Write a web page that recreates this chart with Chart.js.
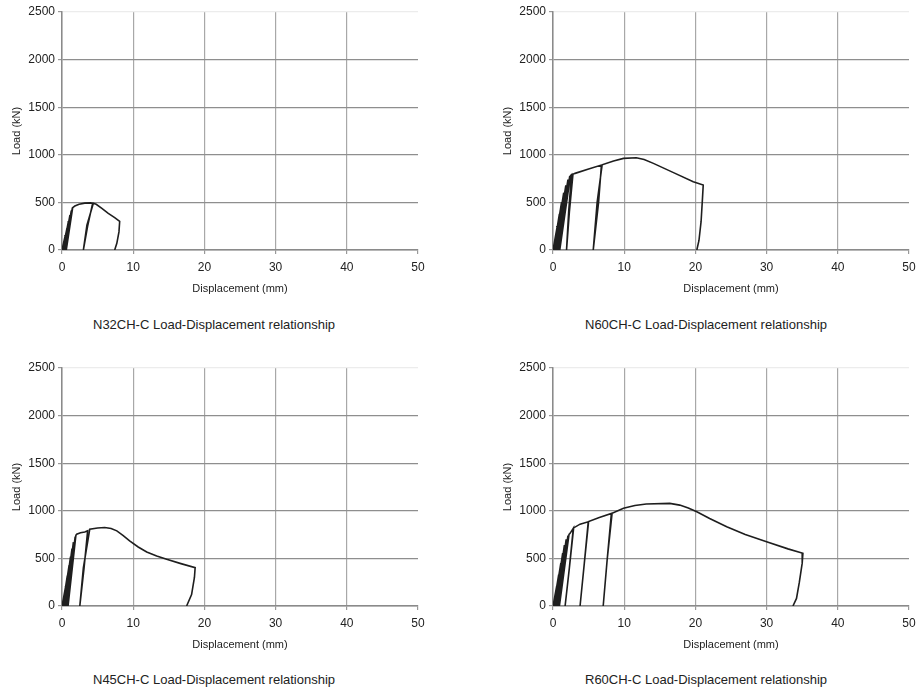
<!DOCTYPE html>
<html>
<head>
<meta charset="utf-8">
<script src="https://cdn.jsdelivr.net/npm/chart.js@4.4.0/dist/chart.umd.min.js"></script>
<style>
  body { margin: 0; background: #fff; width: 922px; height: 694px; position: relative; overflow: hidden; }
  .box { position: absolute; width: 461px; height: 300px; }
  .cap { position: absolute; font-family: "Liberation Sans", Arial, sans-serif; font-size: 13px; color: #222; white-space: nowrap; }
</style>
</head>
<body>
<div class="box" style="left:0;top:0"><canvas id="g1"></canvas></div>
<div class="box" style="left:461px;top:0"><canvas id="g2"></canvas></div>
<div class="box" style="left:0;top:356px"><canvas id="g3"></canvas></div>
<div class="box" style="left:461px;top:356px"><canvas id="g4"></canvas></div>
<div class="cap" style="left:93px;top:317px">N32CH-C Load-Displacement relationship</div>
<div class="cap" style="left:585px;top:317px">N60CH-C Load-Displacement relationship</div>
<div class="cap" style="left:93px;top:672px">N45CH-C Load-Displacement relationship</div>
<div class="cap" style="left:585px;top:672px">R60CH-C Load-Displacement relationship</div>
<script>
// displacement (mm) / load (kN), cycle by cycle
var n32Disp = [0, 0.45, 0.05, 0.47, 0.08, 0.7, 0.1, 0.72, 0.13, 0.9, 0.2, 0.92, 0.24, 1.1, 0.3, 1.12, 0.34, 1.3, 0.4, 1.32, 0.45, 1.45, 0.55, 1.47, 0.6,
  1.5, 1.8, 2.4, 3.2, 4.0, 4.3, 3.6, 3.0, 3.5, 4.4, 4.8, 5.6, 6.5, 7.4, 8.1, 8.0, 7.7, 7.4];
var n32Load = [0, 150, 0, 150, 0, 230, 0, 230, 0, 300, 0, 300, 0, 360, 0, 360, 0, 410, 0, 410, 0, 440, 0, 442, 0,
  445, 462, 480, 492, 495, 490, 250, 0, 260, 490, 480, 437, 385, 340, 300, 190, 70, 0];

var n60Disp = [0, 0.6, 0.05, 0.62, 0.08, 0.9, 0.1, 0.92, 0.14, 1.2, 0.2, 1.22, 0.25, 1.5, 0.35, 1.52, 0.4, 1.8, 0.5, 1.82, 0.56, 2.1, 0.7, 2.12, 0.76, 2.35, 0.9, 2.37, 0.95,
  2.45, 2.6, 2.2, 1.9, 2.3, 2.8, 3.1, 5.0, 6.8, 6.4, 5.65, 6.2, 6.9, 8.5, 9.9, 11.7, 12.8, 14.1, 17.0, 19.7, 21.1, 21.0, 20.8, 20.5, 20.2];
var n60Load = [0, 250, 0, 250, 0, 380, 0, 380, 0, 500, 0, 500, 0, 600, 0, 600, 0, 680, 0, 680, 0, 740, 0, 740, 0, 775, 0, 775, 0,
  780, 790, 400, 0, 400, 795, 805, 850, 892, 500, 0, 500, 895, 935, 962, 969, 950, 910, 810, 717, 683, 550, 300, 100, 0];

var n45Disp = [0, 0.5, 0.05, 0.52, 0.08, 0.75, 0.1, 0.77, 0.14, 1.0, 0.2, 1.02, 0.25, 1.2, 0.3, 1.22, 0.36, 1.4, 0.45, 1.42, 0.5, 1.6, 0.6, 1.62, 0.66, 1.85, 0.8, 1.87, 0.85,
  1.95, 2.06, 2.6, 3.2, 3.6, 3.1, 2.5, 3.0, 3.9, 5.0, 6.0, 6.9, 7.7, 8.6, 9.5, 10.7, 11.9, 13.3, 14.7, 16.7, 18.7, 18.6, 18.2, 17.5];
var n45Load = [0, 200, 0, 200, 0, 320, 0, 320, 0, 430, 0, 430, 0, 520, 0, 520, 0, 600, 0, 600, 0, 670, 0, 670, 0, 730, 0, 730, 0,
  742, 754, 770, 778, 790, 400, 0, 400, 807, 820, 825, 815, 789, 740, 684, 620, 568, 525, 490, 445, 403, 300, 120, 0];

var r60Disp = [0, 0.5, 0.05, 0.52, 0.08, 0.8, 0.1, 0.82, 0.14, 1.1, 0.2, 1.12, 0.25, 1.35, 0.35, 1.37, 0.4, 1.6, 0.5, 1.62, 0.55, 1.85, 0.65, 1.87, 0.7, 2.1, 0.85, 2.12, 0.9,
  2.25, 2.4, 2.85, 2.3, 1.7, 2.3, 2.9, 3.8, 4.95, 4.4, 3.8, 4.4, 5.0, 6.5, 8.2, 7.6, 7.05, 7.6, 8.3, 9.9, 11.5, 13.1, 16.4, 17.8, 19.0, 20.2, 22.0, 24.4, 27.0, 30.0, 33.0, 35.1, 35.0, 34.6, 34.2, 33.7];
var r60Load = [0, 200, 0, 200, 0, 330, 0, 330, 0, 450, 0, 450, 0, 550, 0, 550, 0, 640, 0, 640, 0, 700, 0, 700, 0, 740, 0, 740, 0,
  752, 763, 816, 400, 0, 400, 820, 860, 885, 450, 0, 450, 888, 930, 973, 480, 0, 480, 975, 1026, 1055, 1071, 1078, 1060, 1030, 990, 920, 833, 750, 675, 600, 553, 450, 250, 80, 0];

var xTicks = [0, 10, 20, 30, 40, 50];
var yTicks = [0, 500, 1000, 1500, 2000, 2500];

function pts(xs, ys) {
  return xs.map(function (x, i) { return { x: x, y: ys[i] }; });
}

function makeChart(id, xs, ys, padLeft, padRight) {
  new Chart(document.getElementById(id), {
    type: "scatter",
    data: {
      datasets: [{
        data: pts(xs, ys),
        showLine: true,
        borderColor: "#1e1e1e",
        borderWidth: 1.6,
        pointRadius: 0,
        tension: 0
      }]
    },
    options: {
      responsive: false,
      animation: false,
      plugins: { legend: { display: false }, tooltip: { enabled: false } },
      layout: { padding: { left: padLeft, right: padRight, top: 12, bottom: 0 } },
      scales: {
        x: {
          type: "linear", min: 0, max: 50,
          afterBuildTicks: function (s) { s.ticks = xTicks.map(function (v) { return { value: v }; }); },
          afterFit: function (s) { s.height = 50; },
          grid: {
            color: function (c) { return c.tick.value === 50 ? "rgba(0,0,0,0)" : "#a8a8a8"; },
            lineWidth: 1.2, tickLength: 4, tickColor: "#999"
          },
          border: { color: "#8a8a8a", width: 1.5 },
          ticks: { color: "#222", font: { family: "Liberation Sans", size: 12 }, padding: 6, maxRotation: 0,
            callback: function (v) { return String(v); } },
          title: { display: true, text: "Displacement (mm)", color: "#222", font: { family: "Liberation Sans", size: 11 }, padding: { top: 2 } }
        },
        y: {
          type: "linear", min: 0, max: 2500,
          afterBuildTicks: function (s) { s.ticks = yTicks.map(function (v) { return { value: v }; }); },
          afterFit: function (s) { s.width = 52; },
          grid: {
            color: function (c) { return c.tick.value === 2500 ? "#ececec" : "#8e8e8e"; },
            lineWidth: 1.2, tickLength: 4, tickColor: "#999"
          },
          border: { color: "#8a8a8a", width: 1.5 },
          ticks: { color: "#222", font: { family: "Liberation Sans", size: 12 }, padding: 3,
            callback: function (v) { return String(v); } },
          title: { display: true, text: "Load (kN)", color: "#222", font: { family: "Liberation Sans", size: 11 }, padding: 0 }
        }
      }
    }
  });
}

function sizeCanvas(id) {
  var c = document.getElementById(id);
  c.width = 461; c.height = 300;
  c.style.width = "461px"; c.style.height = "300px";
}
["g1", "g2", "g3", "g4"].forEach(sizeCanvas);

makeChart("g1", n32Disp, n32Load, 10, 43);
makeChart("g2", n60Disp, n60Load, 40, 13);
makeChart("g3", n45Disp, n45Load, 10, 43);
makeChart("g4", r60Disp, r60Load, 40, 13);
</script>
</body>
</html>
